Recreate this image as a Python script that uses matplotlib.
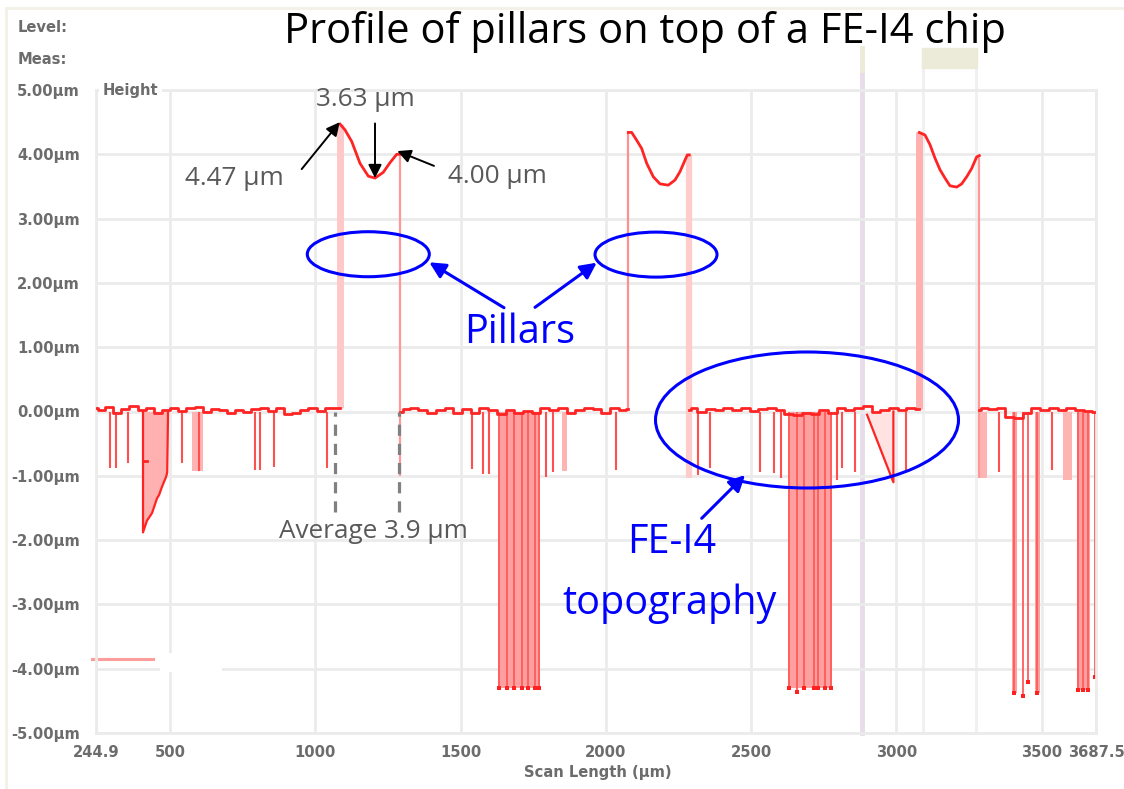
import matplotlib
matplotlib.use("Agg")
import matplotlib.pyplot as plt
from matplotlib.patches import Ellipse, Rectangle
from matplotlib.lines import Line2D

# ---------------- data ----------------
x_ticks = [244.9, 500, 1000, 1500, 2000, 2500, 3000, 3500, 3687.5]
x_tick_labels = ["244.9", "500", "1000", "1500", "2000", "2500", "3000", "3500", "3687.5"]
y_ticks = [5, 4, 3, 2, 1, 0, -1, -2, -3, -4, -5]
y_tick_labels = ["5.00µm", "4.00µm", "3.00µm", "2.00µm", "1.00µm", "0.00µm",
                 "-1.00µm", "-2.00µm", "-3.00µm", "-4.00µm", "-5.00µm"]

# baseline (chip surface) segments
baseA_x = [244.9, 262, 290, 318, 346, 374, 402, 430, 458, 486, 514, 542, 570, 598, 626, 654,
           682, 710, 738, 766, 794, 822, 850, 878, 906, 934, 962, 990, 1018, 1046, 1074, 1084.9]
baseA_y = [0.06, 0.03, 0.07, -0.03, 0.04, 0.08, 0.02, 0.05, -0.02, 0.03, 0.06, 0.01, 0.05, 0.07, 0.00, 0.04,
           0.02, -0.03, 0.03, -0.01, 0.04, 0.06, 0.01, 0.05, -0.04, -0.02, 0.03, 0.05, 0.01, 0.06, 0.05, 0.06]
baseB_x = [1291.4, 1310, 1340, 1370, 1400, 1430, 1460, 1490, 1520, 1550, 1580, 1610, 1640, 1670,
           1700, 1730, 1760, 1790, 1820, 1850, 1880, 1910, 1940, 1970, 2000, 2030, 2060, 2077.4]
baseB_y = [0.00, 0.04, 0.06, 0.02, -0.02, 0.03, 0.05, -0.03, 0.04, -0.02, 0.06, 0.03, -0.04, 0.02,
           -0.03, 0.01, -0.02, 0.05, 0.03, 0.06, -0.03, 0.02, 0.05, 0.04, -0.02, 0.06, 0.03, 0.04]
baseC_x = [2287.4, 2300, 2330, 2360, 2390, 2420, 2450, 2480, 2510, 2540, 2570, 2600, 2630, 2660,
           2690, 2720, 2750, 2780, 2810, 2840, 2870, 2900, 2930, 2960, 2990, 3020, 3050, 3079.2]
baseC_y = [0.02, 0.06, 0.00, 0.04, 0.03, 0.05, 0.02, 0.05, 0.01, 0.04, 0.06, 0.02, -0.04, -0.05,
           -0.02, -0.04, 0.02, -0.03, 0.05, 0.03, 0.06, 0.08, 0.00, 0.03, 0.05, 0.02, 0.06, 0.04]
baseD_x = [3285.7, 3300, 3330, 3360, 3390, 3420, 3450, 3480, 3510, 3540, 3570, 3600, 3630, 3660, 3687.5]
baseD_y = [0.03, 0.05, 0.04, 0.06, -0.08, -0.10, -0.02, 0.05, 0.03, 0.06, 0.02, 0.05, 0.03, 0.01, 0.00]

# pillar tops
p1_x = [1084.9, 1102.1, 1125.2, 1153.7, 1182.3, 1205.4, 1233.9, 1257.0, 1280.1, 1291.4]
p1_y = [4.47, 4.38, 4.20, 3.86, 3.66, 3.63, 3.72, 3.87, 4.00, 4.00]
p2_x = [2077.4, 2089.1, 2106.1, 2123.5, 2140.7, 2163.5, 2186.5, 2215.1, 2238.2, 2255.4, 2272.6, 2280.5, 2287.4]
p2_y = [4.34, 4.34, 4.22, 4.09, 3.86, 3.65, 3.54, 3.52, 3.60, 3.73, 3.91, 3.99, 3.99]
p3_x = [3079.2, 3098.8, 3116.0, 3133.2, 3150.4, 3167.6, 3184.8, 3207.9, 3225.1, 3242.3, 3259.5, 3276.7, 3285.7]
p3_y = [4.34, 4.30, 4.15, 3.94, 3.76, 3.63, 3.51, 3.49, 3.54, 3.65, 3.78, 3.96, 3.98]

# pillar side walls
edge_x = [1084.9, 1291.4, 2077.4, 2287.4, 3079.2, 3285.7]
edge_low = [0.06, -1.00, 0.04, -1.03, 0.04, -1.03]
edge_high = [4.47, 4.00, 4.34, 3.99, 4.34, 3.98]

# narrow spikes (um, depth)
spike_x = [293.1, 313.8, 355.1, 540.9, 598.0, 792.3, 809.5, 857.7, 1040.1, 1539.3, 1577.1, 1597.8,
           1794.1, 1818.2, 2035.1, 2318.8, 2358.6, 2530.8, 2579.0, 2603.1, 2795.9, 2813.1, 2857.9,
           3033.4, 3353.5, 3536.0]
spike_depth = [-0.88, -0.88, -0.80, -0.80, -0.92, -0.91, -0.91, -0.86, -0.88, -0.89, -0.97, -0.97,
               -1.02, -0.94, -0.91, -0.99, -0.88, -0.94, -0.96, -1.03, -1.07, -0.88, -0.94,
               -0.91, -0.94, -0.91]

# shallow pale bands
shallow_x0 = [575.4, 1848.0, 3281.2, 3573.8]
shallow_x1 = [613.3, 1867.0, 3312.2, 3604.8]
shallow_depth = [-0.92, -0.93, -1.03, -1.07]

# deep trenches (fill)
deep_x0 = [1628.8, 2627.2, 3398.3, 3477.5, 3622.1]
deep_x1 = [1773.4, 2778.6, 3415.5, 3494.7, 3666.9]
deep_depth = [-4.30, -4.30, -4.38, -4.38, -4.33]
# individual deep lines
deep_line_x = [1632.2, 1659.8, 1683.9, 1711.4, 1732.1, 1756.2, 1770.0,
               2630.6, 2659.8, 2682.2, 2716.6, 2730.4, 2754.5, 2775.0,
               3405.2, 3436.2, 3453.4, 3484.4,
               3625.5, 3642.7, 3660.0, 3684.1]
deep_line_depth = [-4.30, -4.30, -4.30, -4.30, -4.30, -4.30, -4.30,
                   -4.30, -4.36, -4.30, -4.30, -4.30, -4.30, -4.30,
                   -4.38, -4.42, -4.21, -4.38,
                   -4.33, -4.33, -4.33, -4.13]

# irregular dip near 450 um
dip_x = [406.7, 406.7, 420.0, 437.7, 455.0, 461.8, 472.1, 485.9, 490.0, 493.0]
dip_y = [0.00, -1.88, -1.70, -1.58, -1.35, -1.30, -1.17, -1.02, -0.95, 0.00]
# sloped scratch near 2950 um
slope_x = [2899.2, 2990.0, 2990.0]
slope_y = [-0.05, -1.10, 0.00]
# stray segment lower-left
stray_x = [230.2, 441.1]
stray_y = [-3.85, -3.85]

# annotation values
dashed_x = [1067.7, 1288.0]
dashed_bottom = -1.56

# ---------------- style ----------------
RED = "#ff2424"
GRID = "#ebebeb"
TICKC = "#6c6c6c"
BLUE = "#0000ff"
GREY_TXT = "#595959"
ANN_FONT = "Open Sans"
SMALL = 10.6

W, H = 1124, 789
fig = plt.figure(figsize=(W / 100, H / 100), dpi=100)
ax = fig.add_axes([96 / W, 56 / H, 1000 / W, 643 / H])
ax.set_xlim(244.9, 3687.5)
ax.set_ylim(-5, 5)

for s in ax.spines.values():
    s.set_color(GRID)
    s.set_linewidth(2)
ax.set_xticks(x_ticks)
ax.set_xticklabels(x_tick_labels)
ax.set_yticks(y_ticks)
ax.set_yticklabels(y_tick_labels)
ax.tick_params(length=0, labelcolor=TICKC, labelsize=SMALL)
ax.tick_params(axis="y", pad=11.5)
ax.tick_params(axis="x", pad=8.5)
for lab in ax.get_xticklabels() + ax.get_yticklabels():
    lab.set_fontweight("bold")
ax.grid(True, color=GRID, lw=2, zorder=0)
ax.set_axisbelow(True)

# cursors of the profiler software
ax.axvline(2882, ymin=0, ymax=1.031, color="#e9dcea", lw=3.5, clip_on=False, zorder=0.5)
ax.axvline(2882, ymin=1.031, ymax=1.065, color="#ecead9", lw=3.5, clip_on=False, zorder=0.5)
for cx in (3092.0, 3274.4):
    ax.axvline(cx, ymin=0, ymax=1.034, color="#f0f0f0", lw=2, clip_on=False, zorder=0.4)
fig.patches.append(Rectangle((922 / W, 1 - 68 / H), 55 / W, 20 / H, transform=fig.transFigure,
                             color="#ecead9", zorder=0))
# white gap over -4 gridline
ax.add_patch(Rectangle((465.2, -4.05), 213.5, 0.3, color="white", zorder=0.6, lw=0))

# figure border lines
fig.add_artist(Line2D([6 / W, 6 / W], [0, 1 - 8 / H], color="#f3f1e6", lw=2, transform=fig.transFigure))
fig.add_artist(Line2D([6 / W, 1], [1 - 8 / H, 1 - 8 / H], color="#f3f1e6", lw=2, transform=fig.transFigure))

# deep trenches
for x0, x1, d in zip(deep_x0, deep_x1, deep_depth):
    ax.fill_between([x0, x1], 0, d, color="#ffa0a0", lw=0, zorder=1)
ax.vlines(deep_line_x, 0, deep_line_depth, colors="#ff5a5a", lw=1.3, zorder=1.2)
ax.scatter(deep_line_x, deep_line_depth, marker="s", s=6, color="#ff2020", lw=0, zorder=1.3)

# shallow pale bands
for x0, x1, d in zip(shallow_x0, shallow_x1, shallow_depth):
    ax.fill_between([x0, x1], 0, d, color="#ffb4b4", lw=0, zorder=1)

# narrow spikes
ax.vlines(spike_x, 0, spike_depth, colors="#ff5050", lw=1.5, zorder=1.5)

# irregular dip
ax.fill_between(dip_x, 0, dip_y, color="#ffb0b0", lw=0, zorder=1)
ax.plot(dip_x, dip_y, color=RED, lw=1.6, zorder=2)
ax.plot([410.0, 421.0], [-0.77, -0.77], color=RED, lw=2, zorder=2)

# slope scratch
ax.fill_between(slope_x[:2], 0, slope_y[:2], color="#ffe2e2", lw=0, zorder=1)
ax.plot(slope_x, slope_y, color=RED, lw=1.6, zorder=2)

# stray segment
ax.plot(stray_x, stray_y, color="#ff9c9c", lw=2.2, clip_on=False, zorder=2)

# pillar walls
wall_lw = [5, 1.6, 1.6, 4.5, 5, 1.6]
wall_col = ["#ffc8c8", "#ff9898", "#ff9090", "#ffcccc", "#ffb0b0", "#ff9898"]
for ex, lo, hi, lw_, c in zip(edge_x, edge_low, edge_high, wall_lw, wall_col):
    ax.plot([ex, ex], [lo, hi], color=c, lw=lw_, zorder=1.4, solid_capstyle="butt")

# baseline and pillar tops
for xs, ys in ((baseA_x, baseA_y), (baseB_x, baseB_y), (baseC_x, baseC_y), (baseD_x, baseD_y)):
    ax.plot(xs, ys, color=RED, lw=2.0, zorder=3, drawstyle="steps-mid")
for xs, ys in ((p1_x, p1_y), (p2_x, p2_y), (p3_x, p3_y)):
    ax.plot(xs, ys, color=RED, lw=2.0, zorder=3)

# dashed markers
ax.vlines(dashed_x, dashed_bottom, 0, colors="#808080", linestyles=(0, (3.5, 2.5)), lw=2.3, zorder=4)

# ---------------- annotations ----------------
ak = dict(arrowstyle="-|>", color="black", lw=1.4, mutation_scale=20, shrinkA=0, shrinkB=0)
ax.annotate("", xy=(1084.0, 4.50), xytext=(953.0, 3.77), arrowprops=ak, zorder=5)
ax.annotate("", xy=(1205.4, 3.63), xytext=(1205.4, 4.48), arrowprops=ak, zorder=5)
ax.annotate("", xy=(1282.2, 4.05), xytext=(1408.5, 3.82), arrowprops=ak, zorder=5)

tk = dict(family=ANN_FONT, fontsize=18.8, color=GREY_TXT, ha="center", va="center", zorder=6)
ax.text(720.0, 3.63, "4.47 µm", **tk)
ax.text(1171.0, 4.86, "3.63 µm", **tk)
ax.text(1625.4, 3.65, "4.00 µm", **tk)
ax.text(1198.5, -1.874, "Average 3.9 µm", **tk)

for cx, cy, w, h in ((1182.3, 2.446, 420, 0.70), (2172.8, 2.44, 420, 0.70), (2692.6, -0.132, 1043, 2.115)):
    ax.add_patch(Ellipse((cx, cy), w, h, fill=False, ec=BLUE, lw=2.2, zorder=5))

ab = dict(arrowstyle="-|>", color=BLUE, lw=2.2, mutation_scale=24, shrinkA=0, shrinkB=0)
ax.annotate("", xy=(1392.3, 2.320), xytext=(1649.5, 1.614), arrowprops=ab, zorder=5)
ax.annotate("", xy=(1968.6, 2.314), xytext=(1756.2, 1.62), arrowprops=ab, zorder=5)
ax.annotate("", xy=(2479.3, -0.988), xytext=(2330.1, -1.661), arrowprops=ab, zorder=5)

bk = dict(family=ANN_FONT, fontsize=28.5, color=BLUE, ha="center", va="center", zorder=6)
ax.text(1704.6, 1.221, "Pillars", **bk)
ax.text(2227.8, -2.045, "FE-I4", **bk)
ax.text(2221.0, -2.994, "topography", **bk)

# header texts
def fxy(px, py):
    return px / W, 1 - py / H

fig.text(*fxy(645, 32), "Profile of pillars on top of a FE-I4 chip", family=ANN_FONT,
         fontsize=30, color="black", ha="center", va="center")
sk = dict(fontsize=SMALL, fontweight="bold", color=TICKC, va="center")
fig.text(*fxy(18, 28), "Level:", ha="left", **sk)
fig.text(*fxy(18, 60), "Meas:", ha="left", **sk)
ax.text(0.007, 1.0, "Height", transform=ax.transAxes, ha="left", va="center", fontsize=SMALL,
        fontweight="bold", color=TICKC, zorder=6,
        bbox=dict(boxstyle="square,pad=0.25", fc="white", ec="none"))
fig.text(*fxy(598, 773), "Scan Length (µm)", ha="center", **sk)

fig.savefig("out.png", dpi=100)
